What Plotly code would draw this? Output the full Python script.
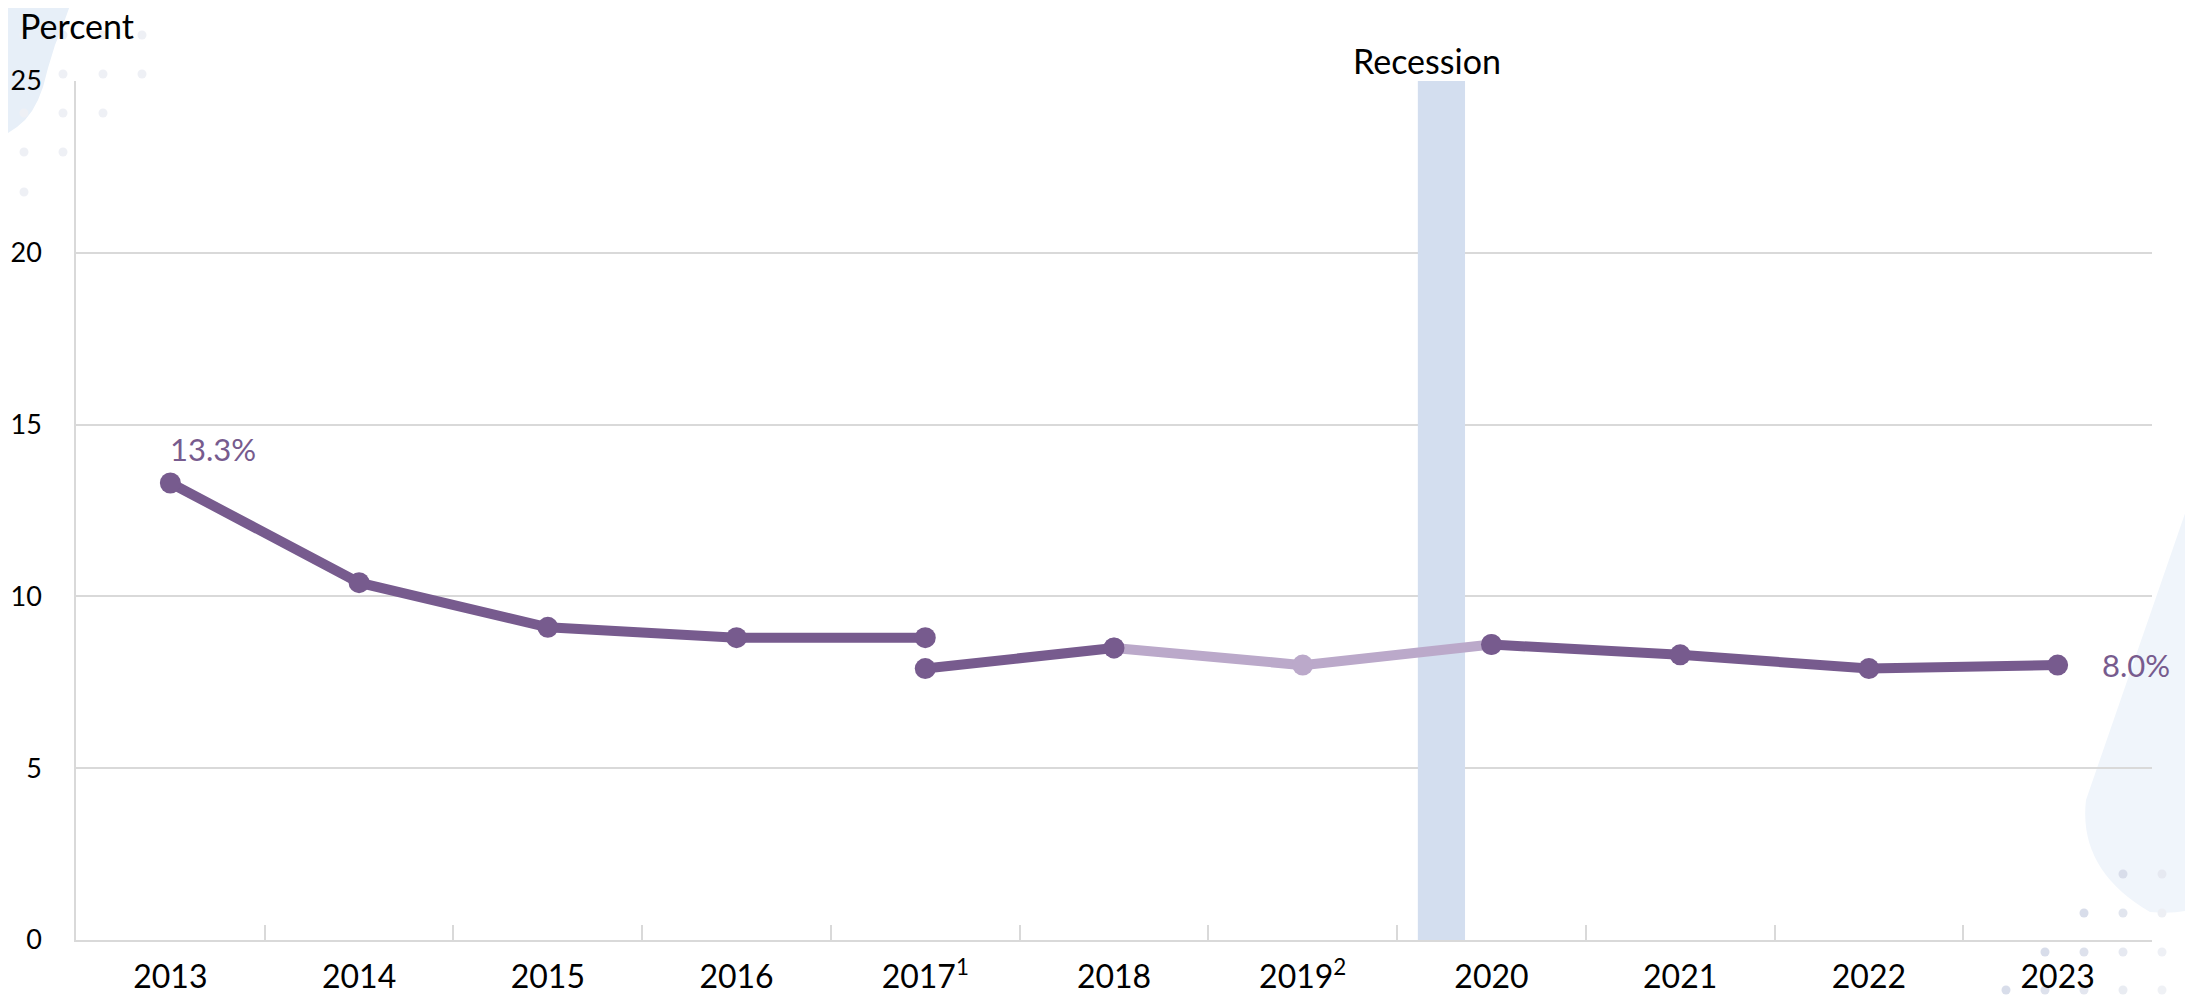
import plotly.graph_objects as go

# categories and tick labels
years = ["2013", "2014", "2015", "2016", "2017", "2018", "2019", "2020", "2021", "2022", "2023"]
year_labels = ["2013", "2014", "2015", "2016", "2017<sup>1</sup>", "2018", "2019<sup>2</sup>",
               "2020", "2021", "2022", "2023"]

# series (percent)
prior_years = ["2013", "2014", "2015", "2016", "2017"]
prior_values = [13.3, 10.4, 9.1, 8.8, 8.8]

current_years = ["2017", "2018", "2019", "2020", "2021", "2022", "2023"]
current_values = [7.9, 8.5, 8.0, 8.6, 8.3, 7.9, 8.0]

# years drawn in the lighter shade
light_years = ["2018", "2019", "2020"]

# recession band: year slot it sits in, start/end offsets from that year's centre
recession_year = "2019"
recession_span = (0.61, 0.86)
y_max = 25

DARK = "#775B8E"
LIGHT = "#BBA9CA"
GRID = "#D9D9D9"
FONT = "Lato"

# the page body adds an 8px margin, so shift the figure up/left by that much
OFF = 8
W, H = 2193, 996
ML, MR, MT, MB = 76 - OFF, 41 + OFF, 81 - OFF, 56 + OFF
PW, PH = W - ML - MR, H - MT - MB


def px(x, y):
    """screen pixel -> paper coords (decoration only)"""
    return (x - OFF - ML) / PW, (H - MB - (y - OFF)) / PH


def poly(points):
    pts = [px(x, y) for x, y in points]
    return "M " + " L ".join(f"{a} {b}" for a, b in pts) + " Z"


fig = go.Figure()

fig.add_trace(go.Bar(
    x=[recession_year], y=[y_max], base=0,
    offset=recession_span[0], width=recession_span[1] - recession_span[0],
    marker=dict(color="#D3DEEF", line=dict(width=0)),
    hoverinfo="skip", showlegend=False,
))

# light section 2018-2020
light_vals = [v for y, v in zip(current_years, current_values) if y in light_years]
fig.add_trace(go.Scatter(
    x=light_years, y=light_vals, mode="lines+markers",
    line=dict(color=LIGHT, width=10), marker=dict(color=LIGHT, size=21),
    hoverinfo="skip", showlegend=False,
))

fig.add_trace(go.Scatter(
    x=prior_years, y=prior_values, mode="lines+markers",
    line=dict(color=DARK, width=10), marker=dict(color=DARK, size=21),
    showlegend=False,
))

# current method, dark parts (gap over the light section)
dark_y = [None if y == "2019" else v for y, v in zip(current_years, current_values)]
fig.add_trace(go.Scatter(
    x=current_years, y=dark_y, mode="lines+markers",
    line=dict(color=DARK, width=10), connectgaps=False,
    marker=dict(color=DARK, size=21),
    showlegend=False,
))

# value labels for first and last points
fig.add_annotation(x=years.index(prior_years[0]), y=prior_values[0],
                   text=f"{prior_values[0]:.1f}%",
                   showarrow=False, xanchor="left", yanchor="middle", yshift=34, xshift=-2,
                   font=dict(family=FONT, size=31, color=DARK))
fig.add_annotation(x=years.index(current_years[-1]), y=current_values[-1],
                   text=f"{current_values[-1]:.1f}%",
                   showarrow=False, xanchor="left", yanchor="middle", xshift=42,
                   font=dict(family=FONT, size=31, color=DARK))

fig.add_annotation(x=0.5, y=1, xref="paper", yref="paper", text="Recession",
                   showarrow=False, xanchor="center", yanchor="bottom",
                   xshift=1427 - (76 + PW / 2), yshift=-2,
                   font=dict(family=FONT, size=34, color="black"))
fig.add_annotation(x=0, y=1, xref="paper", yref="paper", text="Percent",
                   showarrow=False, xanchor="left", yanchor="bottom", xshift=-58, yshift=33,
                   font=dict(family=FONT, size=34, color="black"))

# background decoration
shapes = []
blob_pts = [(-10, -10), (76, -10), (72, 0), (63, 25), (55, 45), (48, 68), (43, 87),
            (38, 100), (32, 111), (25, 120), (17, 127), (8, 133), (0, 137), (-10, 138)]
shapes.append(dict(type="path", xref="paper", yref="paper", layer="below",
                   path=poly(blob_pts), fillcolor="#E7EFF8", line=dict(width=0)))

tear = [px(2200, 470), px(2086, 800), px(2078, 870), px(2150, 912), px(2185, 915), px(2200, 905)]
shapes.append(dict(
    type="path", xref="paper", yref="paper", layer="below",
    path=(f"M {tear[0][0]} {tear[0][1]} L {tear[1][0]} {tear[1][1]} "
          f"Q {tear[2][0]} {tear[2][1]} {tear[3][0]} {tear[3][1]} "
          f"Q {tear[4][0]} {tear[4][1]} {tear[5][0]} {tear[5][1]} Z"),
    fillcolor="#F0F5FB", line=dict(width=0)))

r = 4.5
top_dots = [(24, 35), (63, 35), (103, 35), (142, 35), (63, 74), (103, 74), (142, 74),
            (24, 113), (63, 113), (103, 113), (24, 152), (63, 152), (24, 192),
            (63, -4), (103, -4), (142, -4)]
for cx, cy in top_dots:
    a = px(cx - r, cy + r)
    b = px(cx + r, cy - r)
    shapes.append(dict(type="circle", xref="paper", yref="paper", layer="below",
                       x0=a[0], y0=a[1], x1=b[0], y1=b[1],
                       fillcolor="#EEF0F5", line=dict(width=0)))

bottom_dots = [(2123, 874, "#D8DDEA"), (2162, 874, "#E6E9F1"),
               (2084, 913, "#D8DDEA"), (2123, 913, "#E1E5EE"), (2162, 913, "#EDEFF4"),
               (2045, 952, "#D8DDEA"), (2084, 952, "#DDE1EC"), (2123, 952, "#E6E9F1"),
               (2162, 952, "#EEF0F5"),
               (2006, 990, "#D8DDEA"), (2045, 990, "#DDE1EC"), (2084, 990, "#E3E6EF"),
               (2123, 990, "#E9ECF2"), (2162, 990, "#EFF1F5")]
for cx, cy, c in bottom_dots:
    a = px(cx - r, cy + r)
    b = px(cx + r, cy - r)
    shapes.append(dict(type="circle", xref="paper", yref="paper", layer="below",
                       x0=a[0], y0=a[1], x1=b[0], y1=b[1],
                       fillcolor=c, line=dict(width=0)))

fig.update_layout(
    width=W, height=H,
    margin=dict(l=ML, r=MR, t=MT, b=MB, autoexpand=False),
    paper_bgcolor="white",
    plot_bgcolor="rgba(0,0,0,0)",
    font=dict(family=FONT, color="black"),
    shapes=shapes,
    showlegend=False,
)

fig.update_xaxes(
    type="category", categoryorder="array", categoryarray=years,
    tickvals=years, ticktext=year_labels,
    range=[-0.5, 10.5],
    tickson="boundaries", ticks="inside", ticklen=15, tickcolor=GRID, tickwidth=1.5,
    showgrid=False, showline=True, linecolor=GRID, linewidth=1.5,
    tickfont=dict(family=FONT, size=32, color="black"),
    ticklabelstandoff=8,
)
fig.update_yaxes(
    range=[0, y_max], dtick=5, tick0=0,
    showgrid=True, gridcolor=GRID, gridwidth=1.5,
    showline=True, linecolor=GRID, linewidth=1.5,
    zeroline=False, ticks="",
    tickfont=dict(family=FONT, size=27, color="black"),
    ticklabelstandoff=27,
)

fig.write_html("out.html")
